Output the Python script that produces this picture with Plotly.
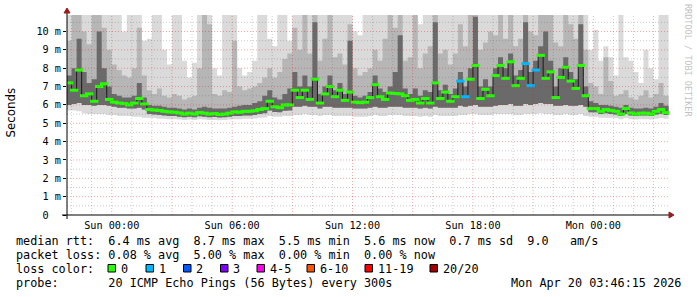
import plotly.graph_objects as go
import pandas as pd

# ---------------- data (15-minute steps) ----------------
times = pd.date_range("2026-04-18 21:45:00", periods=121, freq="15min")
t_start = pd.Timestamp("2026-04-18 21:46:15")
t_end = pd.Timestamp("2026-04-20 03:46:15")

median = [7.2, 6.8, 7.9, 6.5, 6.6, 6.2, 7.0, 7.15, 6.3, 6.15,
          6.1, 6.07, 6.0, 6.1, 6.35, 6.05, 5.75, 5.72, 5.7, 5.65,
          5.62, 5.6, 5.56, 5.5, 5.55, 5.5, 5.58, 5.55, 5.5, 5.53,
          5.48, 5.5, 5.55, 5.62, 5.6, 5.65, 5.65, 5.68, 5.75, 5.8,
          6.2, 5.9, 5.85, 6.0, 6.0, 6.8, 6.4, 6.8, 6.3, 7.4,
          6.1, 6.6, 7.0, 6.45, 6.8, 6.25, 6.7, 6.15, 6.12, 6.15,
          6.4, 7.1, 6.45, 6.3, 6.65, 6.62, 6.6, 6.5, 6.25, 6.3,
          6.1, 6.35, 6.1, 7.2, 6.35, 6.7, 6.2, 6.45, 7.3, 6.45,
          7.4, 8.15, 6.35, 6.85, 6.5, 7.6, 8.15, 7.45, 8.35, 7.05,
          7.45, 8.25, 7.05, 7.9, 8.7, 7.45, 7.8, 6.4, 7.5, 8.05,
          7.3, 6.9, 8.15, 6.5, 5.8, 5.8, 5.65, 5.75, 5.7, 5.65,
          5.5, 5.8, 5.56, 5.5, 5.55, 5.55, 5.5, 5.65, 5.75, 5.58,
          5.56]

loss = [0, 0, 0, 0, 0, 0, 0, 0, 0, 0,
        0, 0, 0, 0, 0, 0, 0, 0, 0, 0,
        0, 0, 0, 0, 0, 0, 0, 0, 0, 0,
        0, 0, 0, 0, 0, 0, 0, 0, 0, 0,
        0, 0, 0, 0, 0, 0, 0, 0, 0, 0,
        0, 0, 0, 0, 0, 0, 0, 0, 0, 0,
        0, 0, 0, 0, 0, 0, 0, 0, 0, 0,
        0, 0, 0, 0, 0, 0, 0, 0, 1, 1,
        0, 0, 0, 0, 0, 0, 0, 0, 0, 0,
        0, 1, 1, 1, 0, 0, 0, 0, 0, 0,
        0, 0, 0, 0, 0, 0, 0, 0, 0, 0,
        0, 0, 0, 0, 0, 0, 0, 0, 0, 0,
        0]

# smoke: lowest ping, lower dark edge, upper dark edge, upper mid edge, highest ping
smoke_lo = [5.7, 5.7, 5.65, 5.55, 5.5, 5.5, 5.5, 5.5, 5.45, 5.45,
            5.4, 5.4, 5.4, 5.35, 5.35, 5.3, 5.3, 5.28, 5.25, 5.25,
            5.22, 5.22, 5.2, 5.18, 5.2, 5.18, 5.22, 5.2, 5.18, 5.18,
            5.16, 5.18, 5.2, 5.22, 5.22, 5.24, 5.24, 5.26, 5.3, 5.32,
            5.4, 5.35, 5.35, 5.4, 5.4, 5.45, 5.45, 5.5, 5.45, 5.45,
            5.4, 5.45, 5.45, 5.4, 5.4, 5.4, 5.4, 5.35, 5.35, 5.35,
            5.4, 5.45, 5.4, 5.4, 5.45, 5.45, 5.45, 5.4, 5.4, 5.4,
            5.35, 5.4, 5.35, 5.45, 5.4, 5.4, 5.4, 5.4, 5.45, 5.45,
            5.5, 5.5, 5.45, 5.45, 5.45, 5.5, 5.5, 5.5, 5.5, 5.45,
            5.45, 5.5, 5.5, 5.5, 5.55, 5.5, 5.5, 5.45, 5.45, 5.5,
            5.45, 5.45, 5.5, 5.4, 5.35, 5.35, 5.3, 5.3, 5.3, 5.28,
            5.22, 5.28, 5.22, 5.2, 5.22, 5.22, 5.2, 5.25, 5.28, 5.24,
            5.22]

smoke_lo2 = [6.0, 6.05, 6.1, 6.0, 6.0, 5.95, 6.0, 6.0, 5.95, 5.9,
             5.85, 5.85, 5.8, 5.8, 5.85, 5.75, 5.5, 5.48, 5.45, 5.42,
             5.4, 5.4, 5.36, 5.33, 5.35, 5.33, 5.38, 5.36, 5.33, 5.34,
             5.32, 5.33, 5.36, 5.4, 5.4, 5.42, 5.42, 5.45, 5.5, 5.55,
             5.7, 5.62, 5.6, 5.68, 5.7, 5.9, 5.9, 5.95, 5.9, 5.9,
             5.8, 5.9, 5.9, 5.85, 5.85, 5.85, 5.85, 5.8, 5.8, 5.8,
             5.85, 5.9, 5.85, 5.85, 5.9, 5.9, 5.9, 5.85, 5.85, 5.85,
             5.8, 5.85, 5.8, 5.9, 5.85, 5.85, 5.85, 5.85, 5.95, 5.9,
             5.95, 6.0, 5.9, 5.9, 5.9, 5.95, 6.0, 6.0, 6.05, 5.95,
             5.95, 6.05, 6.0, 6.05, 6.1, 6.05, 6.05, 5.95, 5.95, 6.0,
             5.95, 5.95, 6.0, 5.9, 5.6, 5.6, 5.5, 5.55, 5.5, 5.48,
             5.4, 5.5, 5.42, 5.4, 5.42, 5.42, 5.4, 5.48, 5.52, 5.45,
             5.42]

smoke_hi1 = [7.6, 8.0, 9.6, 7.8, 7.2, 7.4, 10.0, 8.0, 7.0, 6.6,
             6.5, 6.4, 6.4, 6.5, 7.2, 6.4, 6.0, 5.95, 5.95, 5.9,
             5.85, 5.85, 5.8, 5.75, 5.8, 5.75, 5.85, 5.9, 5.85, 5.8,
             5.8, 5.8, 5.85, 5.9, 5.95, 6.0, 6.0, 6.1, 6.2, 6.5,
             6.8, 6.4, 6.3, 6.6, 6.9, 7.8, 7.0, 7.6, 7.0, 10.5,
             6.6, 7.0, 7.6, 6.8, 7.2, 6.6, 9.5, 6.5, 6.4, 6.5,
             6.7, 7.6, 6.9, 6.7, 7.0, 7.8, 9.8, 6.9, 6.6, 6.9,
             6.5, 6.8, 6.7, 10.5, 6.8, 7.1, 6.6, 6.9, 7.8, 7.0,
             8.0, 10.8, 7.0, 7.4, 7.0, 8.0, 8.6, 8.0, 8.8, 7.6,
             7.9, 10.5, 7.8, 8.4, 9.2, 10.0, 8.4, 7.0, 8.0, 8.6,
             7.8, 7.4, 10.4, 7.0, 6.2, 6.1, 6.0, 6.0, 5.95, 5.9,
             5.85, 6.0, 5.85, 5.8, 5.8, 5.85, 5.8, 5.9, 6.1, 5.95,
             5.85]

smoke_hi2 = [9.5, 11.0, 11.0, 10.0, 9.3, 11.0, 11.0, 10.2, 9.0, 8.2,
             7.9, 7.6, 7.5, 8.0, 10.2, 7.6, 6.8, 6.6, 6.9, 6.5,
             6.4, 6.6, 6.5, 6.3, 6.4, 6.5, 8.0, 11.0, 10.4, 6.6,
             6.5, 6.8, 6.7, 9.5, 7.0, 6.8, 6.9, 7.0, 7.2, 7.5,
             8.0, 7.5, 7.8, 8.5, 8.8, 10.2, 9.0, 11.0, 8.8, 11.0,
             8.4, 9.6, 11.0, 8.6, 8.8, 8.2, 10.4, 8.0, 7.6, 7.8,
             8.0, 9.0, 8.4, 9.6, 11.0, 10.2, 11.0, 8.4, 8.6, 11.0,
             8.0, 8.8, 9.2, 11.0, 8.8, 9.0, 8.2, 8.8, 10.4, 9.2,
             11.0, 11.0, 9.0, 9.4, 10.0, 9.8, 11.0, 9.6, 11.0, 9.2,
             9.6, 11.0, 10.0, 9.8, 11.0, 11.0, 11.0, 9.4, 9.2, 11.0,
             10.4, 9.6, 11.0, 9.0, 7.2, 7.0, 6.6, 8.6, 7.3, 6.5,
             6.6, 6.8, 6.4, 6.3, 6.5, 6.8, 6.4, 6.6, 7.2, 6.5,
             6.3]

smoke_hi3 = [11.0, 11.0, 11.0, 11.0, 11.0, 11.0, 11.0, 11.0, 11.0, 11.0,
             11.0, 10.0, 11.0, 11.0, 11.0, 9.5, 9.6, 11.0, 11.0, 9.0,
             8.2, 11.0, 11.0, 8.4, 7.5, 8.3, 11.0, 11.0, 11.0, 8.0,
             7.6, 11.0, 11.0, 11.0, 8.0, 7.6, 7.8, 8.4, 11.0, 11.0,
             9.6, 9.2, 11.0, 11.0, 9.5, 11.0, 11.0, 11.0, 11.0, 11.0,
             11.0, 11.0, 11.0, 11.0, 11.0, 11.0, 11.0, 10.0, 9.8, 11.0,
             11.0, 11.0, 11.0, 11.0, 11.0, 11.0, 11.0, 11.0, 11.0, 11.0,
             10.4, 11.0, 11.0, 11.0, 11.0, 11.0, 11.0, 11.0, 11.0, 11.0,
             11.0, 11.0, 11.0, 11.0, 11.0, 11.0, 11.0, 11.0, 11.0, 11.0,
             11.0, 11.0, 11.0, 11.0, 11.0, 11.0, 11.0, 11.0, 11.0, 11.0,
             11.0, 11.0, 11.0, 11.0, 9.0, 10.1, 8.4, 9.2, 8.6, 7.6,
             11.0, 8.6, 8.4, 7.8, 7.2, 9.0, 8.0, 7.4, 11.0, 11.0,
             7.0]

x_tick_vals = ["2026-04-19 00:00", "2026-04-19 03:00", "2026-04-19 06:00",
               "2026-04-19 09:00", "2026-04-19 12:00", "2026-04-19 15:00",
               "2026-04-19 18:00", "2026-04-19 21:00", "2026-04-20 00:00",
               "2026-04-20 03:00"]
x_tick_text = ["Sun 00:00", "", "Sun 06:00", "", "Sun 12:00", "",
               "Sun 18:00", "", "Mon 00:00", ""]
y_tick_vals = [0, 1, 2, 3, 4, 5, 6, 7, 8, 9, 10]
y_tick_text = ["0\u00a0\u00a0", "1 m", "2 m", "3 m", "4 m", "5 m",
               "6 m", "7 m", "8 m", "9 m", "10 m"]

loss_labels = ["0", "1", "2", "3", "4-5", "6-10", "11-19", "20/20"]
loss_colors = ["#26ff00", "#00b8ff", "#0059ff", "#7e00ff", "#ff00ee",
               "#ff5500", "#ff0000", "#a10000"]

stats_lines = [
    "median rtt:  6.4 ms avg  8.7 ms max  5.5 ms min  5.6 ms now  0.7 ms sd  9.0   am/s",
    "packet loss: 0.08 % avg  5.00 % max  0.00 % min  0.00 % now",
]
probe_line = "probe:       20 ICMP Echo Pings (56 Bytes) every 300s"
stamp = "Mon Apr 20 03:46:15 2026"

# ---------------- geometry helpers ----------------
W, H = 697, 297
L, T, PW, PH = 67, 15, 602, 200
YMAX = 10.9
MONO = "DejaVu Sans Mono"


def px(x):
    return (x - L) / PW


def py(y):
    return (T + PH - y) / PH


def nb(s):
    return s.replace(" ", "\u00a0")


def loss_color(n):
    if n == 0:
        return loss_colors[0]
    if n == 1:
        return loss_colors[1]
    if n == 2:
        return loss_colors[2]
    if n == 3:
        return loss_colors[3]
    if n <= 5:
        return loss_colors[4]
    if n <= 10:
        return loss_colors[5]
    if n <= 19:
        return loss_colors[6]
    return loss_colors[7]


fig = go.Figure()


def band(lower, upper, color):
    fig.add_trace(go.Scatter(x=times, y=lower, mode="lines",
                             line=dict(width=0, shape="hv"),
                             hoverinfo="skip", showlegend=False))
    fig.add_trace(go.Scatter(x=times, y=upper, mode="lines",
                             line=dict(width=0, shape="hv"),
                             fill="tonexty", fillcolor=color,
                             hoverinfo="skip", showlegend=False))


band(smoke_lo, smoke_hi3, "#dadada")
band(smoke_lo2, smoke_hi2, "#b6b6b6")
band(smoke_lo2, smoke_hi1, "#6a6a6a")

fig.add_trace(go.Scatter(x=times, y=median, mode="lines",
                         line=dict(width=1, color="#1a1a1a", shape="hv"),
                         hoverinfo="skip", showlegend=False))
fig.add_trace(go.Scatter(x=times + pd.Timedelta(minutes=7.5), y=median,
                         mode="markers",
                         marker=dict(symbol="line-ew", size=6,
                                     line=dict(width=3,
                                               color=[loss_color(n) for n in loss])),
                         hoverinfo="skip", showlegend=False))

shapes = []
MAJ = "rgba(235,0,0,0.33)"
MIN = "rgba(100,100,100,0.33)"
# grid on top of the smoke (rrdtool style)
for h in pd.date_range("2026-04-18 22:00", "2026-04-20 03:00", freq="1h"):
    major = h.hour % 3 == 0
    shapes.append(dict(type="line", xref="x", yref="paper", x0=h, x1=h, y0=0, y1=1,
                       layer="above",
                       line=dict(color=MAJ if major else MIN, width=1, dash="1px,2px")))
for i in range(1, 22):
    v = i * 0.5
    major = i % 2 == 0
    shapes.append(dict(type="line", xref="paper", yref="y", x0=0, x1=1, y0=v, y1=v,
                       layer="above",
                       line=dict(color=MAJ if major else MIN, width=1, dash="1px,2px")))
# axes
shapes.append(dict(type="line", xref="paper", yref="paper", x0=px(62), x1=px(670),
                   y0=py(215), y1=py(215), layer="above",
                   line=dict(color="black", width=1)))
shapes.append(dict(type="line", xref="paper", yref="paper", x0=px(67), x1=px(67),
                   y0=py(219), y1=py(11), layer="above",
                   line=dict(color="black", width=1)))
arrow = "#9b1c1c"
shapes.append(dict(type="path", xref="paper", yref="paper", layer="above",
                   path=f"M {px(64)},{py(13)} L {px(70)},{py(13)} L {px(67)},{py(8)} Z",
                   fillcolor=arrow, line=dict(color=arrow, width=1)))
shapes.append(dict(type="path", xref="paper", yref="paper", layer="above",
                   path=f"M {px(669)},{py(212)} L {px(669)},{py(218)} L {px(674)},{py(215)} Z",
                   fillcolor=arrow, line=dict(color=arrow, width=1)))

annotations = []
font_leg = dict(family=MONO, size=11.8, color="black")
row_y = [241, 255, 268.5, 282.5]
for s, y in zip(stats_lines, row_y[:2]):
    annotations.append(dict(xref="paper", yref="paper", x=px(15), y=py(y),
                            xanchor="left", yanchor="middle", showarrow=False,
                            text=nb(s), font=font_leg, borderpad=0))
annotations.append(dict(xref="paper", yref="paper", x=px(15), y=py(row_y[2]),
                        xanchor="left", yanchor="middle", showarrow=False,
                        text=nb("loss color:"), font=font_leg, borderpad=0))
sq_x = [108, 146, 183.5, 220.5, 257, 307, 365, 430]
for lab, col, x0 in zip(loss_labels, loss_colors, sq_x):
    shapes.append(dict(type="rect", xref="paper", yref="paper",
                       x0=px(x0), x1=px(x0 + 7.5), y0=py(272), y1=py(264.5),
                       fillcolor=col, line=dict(color="black", width=1)))
    annotations.append(dict(xref="paper", yref="paper", x=px(x0 + 11.5), y=py(row_y[2]),
                            xanchor="left", yanchor="middle", showarrow=False,
                            text=nb(lab), font=font_leg, borderpad=0))
annotations.append(dict(xref="paper", yref="paper", x=px(15), y=py(row_y[3]),
                        xanchor="left", yanchor="middle", showarrow=False,
                        text=nb(probe_line), font=font_leg, borderpad=0))
annotations.append(dict(xref="paper", yref="paper", x=px(682), y=py(row_y[3]),
                        xanchor="right", yanchor="middle", showarrow=False,
                        text=nb(stamp), font=font_leg, borderpad=0))
annotations.append(dict(xref="paper", yref="paper", x=px(10.5), y=py(113),
                        xanchor="center", yanchor="middle", showarrow=False,
                        text="Seconds", textangle=-90,
                        font=dict(family="DejaVu Sans", size=11.8, color="black")))
annotations.append(dict(xref="paper", yref="paper", x=px(688), y=py(60),
                        xanchor="center", yanchor="middle", showarrow=False,
                        text=nb("RRDTOOL / TOBI OETIKER"), textangle=90,
                        font=dict(family=MONO, size=8.5, color="#c2c2c2")))

fig.update_layout(
    width=W, height=H,
    margin=dict(l=L, r=W - L - PW, t=T, b=H - T - PH, pad=0),
    paper_bgcolor="white", plot_bgcolor="white",
    showlegend=False,
    shapes=shapes, annotations=annotations,
    xaxis=dict(type="date", range=[t_start, t_end], tickmode="array",
               tickvals=x_tick_vals, ticktext=x_tick_text,
               showgrid=False, zeroline=False, showline=False, ticks="",
               ticklabelstandoff=3,
               tickfont=dict(family=MONO, size=10.2, color="black")),
    yaxis=dict(range=[0, YMAX], tickmode="array", tickvals=y_tick_vals,
               ticktext=y_tick_text, showgrid=False, zeroline=False,
               showline=False, ticks="outside", ticklen=3, tickcolor="black",
               tickfont=dict(family=MONO, size=10.2, color="black")),
)

fig.write_html("out.html")
